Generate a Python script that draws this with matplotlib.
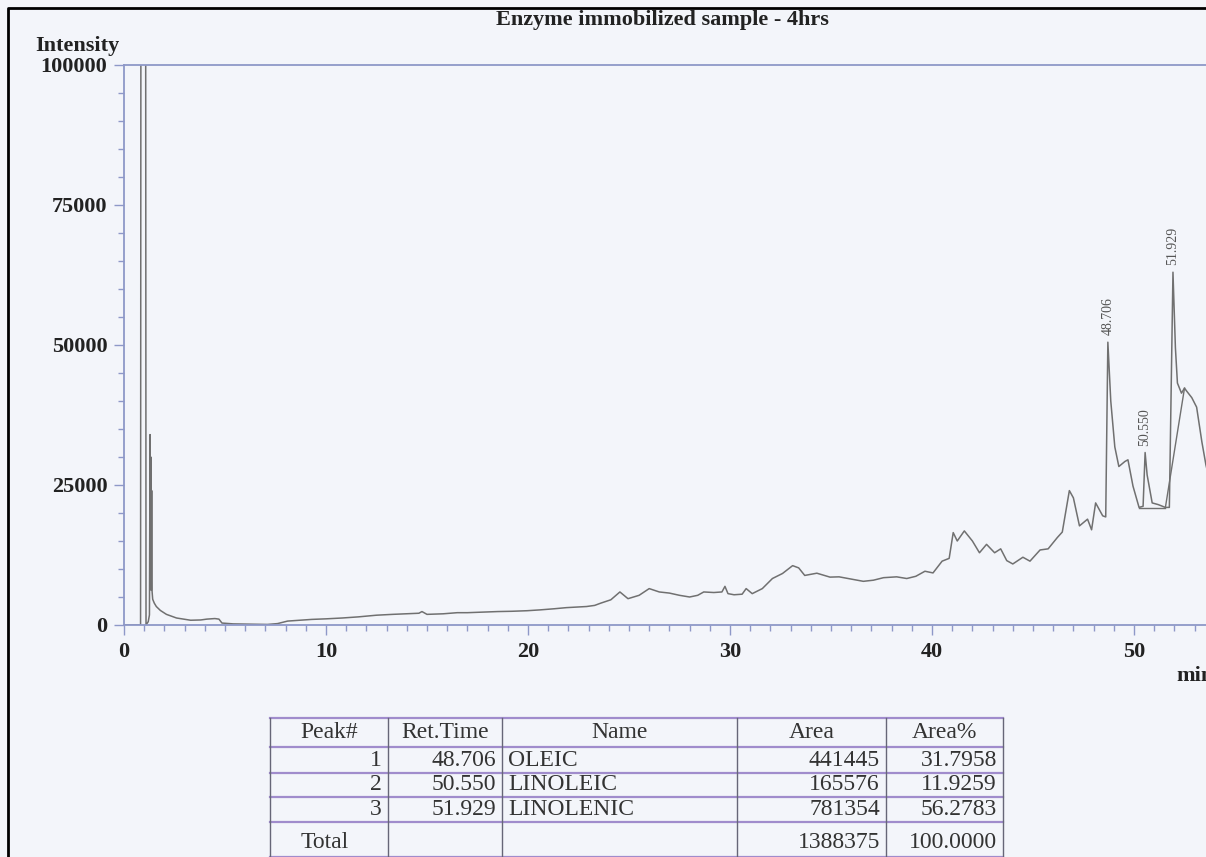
import numpy as np
import matplotlib.pyplot as plt
from matplotlib.ticker import MultipleLocator

plt.rcParams['font.family'] = ['Liberation Serif', 'DejaVu Serif']

# Chromatogram trace: retention time (min) vs detector intensity
time_min = [0, 0.82, 0.84, 1.07, 1.09, 1.2, 1.26, 1.29, 1.31, 1.33, 1.35, 1.37, 1.39,
            1.42, 1.5, 1.6, 1.8, 2.1, 2.6, 3.3, 3.8, 4.1, 4.5, 4.7, 4.85, 5.4, 6.2,
            7.1, 7.6, 8.1, 8.7, 9.3, 10.0, 10.8, 11.6, 12.5, 13.3, 14.0, 14.6, 14.75,
            15.0, 15.8, 16.5, 17.0, 17.8, 18.5, 19.2, 19.95, 20.6, 21.3, 21.9, 22.4,
            22.9, 23.3, 23.6, 24.1, 24.55, 24.95, 25.5, 26.0, 26.5, 27.0, 27.5, 28.0,
            28.4, 28.7, 29.2, 29.6, 29.75, 29.9, 30.2, 30.6, 30.8, 31.1, 31.6, 32.1,
            32.6, 33.1, 33.4, 33.7, 34.3, 34.95, 35.4, 36.0, 36.6, 37.1, 37.6, 38.25,
            38.75, 39.2, 39.65, 40.05, 40.5, 40.85, 41.05, 41.25, 41.6, 42.0, 42.35,
            42.7, 43.1, 43.4, 43.7, 44.0, 44.5, 44.85, 45.35, 45.75, 46.2, 46.45, 46.8,
            47.0, 47.3, 47.7, 47.9, 48.1, 48.45, 48.6, 48.706, 48.85, 49.05, 49.25,
            49.55, 49.7, 49.95, 50.25, 50.45, 50.55, 50.65, 50.9, 51.2, 51.55, 51.75,
            51.929, 52.05, 52.15, 52.35, 52.5, 52.6, 52.86, 53.1, 53.36, 53.56, 53.8]
intensity = [0, 0, 130000, 130000, 0, 600, 1800, 34000, 6500, 30000, 6200, 24000, 6000,
             4600, 3900, 3300, 2600, 1900, 1250, 850, 900, 1050, 1150, 1050, 350, 200, 150,
             100, 250, 700, 850, 1000, 1100, 1250, 1450, 1750, 1900, 2000, 2100, 2400,
             1900, 2000, 2200, 2200, 2300, 2400, 2450, 2550, 2700, 2900, 3100, 3200,
             3300, 3500, 3900, 4500, 5900, 4700, 5300, 6500, 5900, 5700, 5300, 5000,
             5300, 5900, 5800, 5900, 6900, 5600, 5400, 5500, 6500, 5600, 6500, 8300,
             9200, 10600, 10200, 8850, 9250, 8550, 8600, 8200, 7800, 8000, 8450, 8600,
             8300, 8700, 9600, 9300, 11400, 11900, 16500, 15000, 16800, 15000, 12900,
             14400, 12900, 13600, 11500, 10900, 12100, 11400, 13400, 13600, 15600, 16600, 24000,
             22700, 17700, 18900, 17000, 21800, 19500, 19300, 50500, 40000, 31800, 28300,
             29200, 29500, 24800, 21000, 21200, 30800, 26800, 21800, 21500, 21000, 21000,
             63000, 49500, 43200, 41400, 42300, 41800, 40600, 38900, 32700, 28600, 25000]

# Integration baseline and tangent skim under the last peaks
baseline_t = [50.25, 51.55]
baseline_y = [20900, 20900]
skim_t = [51.55, 52.5]
skim_y = [20900, 42300]

# Peak table
peak_no = [1, 2, 3]
ret_time = [48.706, 50.550, 51.929]
names = ["OLEIC", "LINOLEIC", "LINOLENIC"]
areas = [441445, 165576, 781354]
area_pct = [31.7958, 11.9259, 56.2783]
total_area = 1388375
total_pct = 100.0

W, H = 1206, 857
fig = plt.figure(figsize=(W / 100, H / 100), dpi=100, facecolor='#f3f5fa')

# full-figure overlay in pixel units for the frame and the table
ov = fig.add_axes([0, 0, 1, 1])
ov.set_xlim(0, W)
ov.set_ylim(H, 0)
ov.axis('off')
ov.plot([8, 8, W], [H, 8, 8], color='black', lw=2)

spine_col = '#8e98c8'
ax = fig.add_axes([124 / W, (H - 625) / H, 55 * 20.2 / W, 560 / H])
ax.set_facecolor('none')
ax.plot(time_min, intensity, color='#707070', lw=1.1)
ax.plot(baseline_t, baseline_y, color='#707070', lw=1.0)
ax.plot(skim_t, skim_y, color='#707070', lw=1.0)
ax.set_xlim(0, 55)
ax.set_ylim(0, 100000)

for s in ['left', 'bottom', 'top']:
    ax.spines[s].set_color(spine_col)
    ax.spines[s].set_linewidth(1.3)
ax.spines['right'].set_visible(False)

ax.xaxis.set_major_locator(MultipleLocator(10))
ax.xaxis.set_minor_locator(MultipleLocator(1))
ax.yaxis.set_major_locator(MultipleLocator(25000))
ax.yaxis.set_minor_locator(MultipleLocator(5000))
ax.tick_params(which='major', length=7, width=1, color=spine_col, pad=5,
               labelsize=16, labelcolor='#222222')
ax.tick_params(which='minor', length=4, width=1, color=spine_col)
for lbl in ax.get_xticklabels() + ax.get_yticklabels():
    lbl.set_fontweight('bold')

# retention time labels above the peaks
peak_h = np.interp(ret_time, time_min, intensity)
for rt, h in zip(ret_time, peak_h):
    ax.text(rt, h + 1200, f"{rt:.3f}", rotation=90, ha='center', va='bottom',
            fontsize=10, color='#555555')

fig.text(662 / W, 1 - 20 / H, "Enzyme immobilized sample - 4hrs", ha='center',
         va='center', fontsize=16, fontweight='bold', color='#222222')
fig.text(35 / W, 1 - 46 / H, "Intensity", ha='left', va='center', fontsize=16,
         fontweight='bold', color='#222222')
fig.text(1176 / W, 1 - 676 / H, "min", ha='left', va='center', fontsize=16,
         fontweight='bold', color='#222222')

# peak table
col_x = [270, 388, 502, 737, 886, 1003]
row_y = [718, 747, 773, 797, 822, 857]
line_col = '#a08ccc'
for y in row_y:
    ov.plot([col_x[0], col_x[-1]], [y, y], color=line_col, lw=1.6)
for x in col_x:
    ov.plot([x, x], [row_y[0], row_y[-1]], color='#666677', lw=1.0)

tkw = dict(fontsize=17, color='#333333', va='center')
headers = ["Peak#", "Ret.Time", "Name", "Area", "Area%"]
for i, hd in enumerate(headers):
    ov.text((col_x[i] + col_x[i + 1]) / 2, 733, hd, ha='center', **tkw)

rows = zip(peak_no, ret_time, names, areas, area_pct)
for j, (n, rt, nm, ar, pc) in enumerate(rows):
    yc = (row_y[j + 1] + row_y[j + 2]) / 2
    ov.text(col_x[1] - 6, yc, str(n), ha='right', **tkw)
    ov.text(col_x[2] - 6, yc, f"{rt:.3f}", ha='right', **tkw)
    ov.text(col_x[2] + 6, yc, nm, ha='left', **tkw)
    ov.text(col_x[4] - 6, yc, str(ar), ha='right', **tkw)
    ov.text(col_x[5] - 6, yc, f"{pc:.4f}", ha='right', **tkw)

yt = (row_y[4] + row_y[5]) / 2 + 3
ov.text((col_x[0] + col_x[1]) / 2 - 4, yt, "Total", ha='center', **tkw)
ov.text(col_x[4] - 6, yt, str(total_area), ha='right', **tkw)
ov.text(col_x[5] - 6, yt, f"{total_pct:.4f}", ha='right', **tkw)

fig.savefig('out.png', dpi=100, facecolor=fig.get_facecolor())
